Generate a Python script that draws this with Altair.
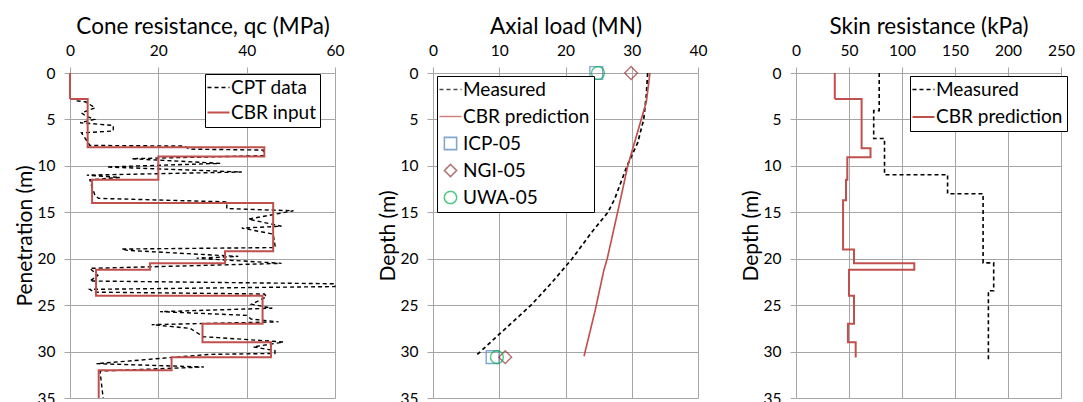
import altair as alt
import pandas as pd

FONT = "Lato"
RED = "#c0504d"
GRID = "#a6a6a6"
LINE_SYMBOL = "M-1.8,0H1.8"

# ---------- Panel 1: cone resistance ----------
cpt_qc = [1.5, 3.5, 5.7, 2.6, 3.5, 5.5, 2.3, 9.8, 9.8, 2.6, 3.8, 4.5, 26.0, 27.0, 43.8, 43.8,
          14.0, 34.0, 8.3, 38.9, 3.8, 11.3, 4.5, 4.9, 5.7, 6.5, 35.5, 35.5, 50.6, 40.4, 47.9,
          38.9, 46.0, 46.5, 11.7, 13.0, 38.1, 28.7, 47.9, 4.5, 6.3, 4.5, 60.0, 60.0, 4.5, 5.5,
          44.0, 44.5, 41.1, 45.8, 20.4, 40.0, 41.0, 47.2, 18.5, 27.2, 30.2, 33.6, 48.3, 41.5,
          46.4, 46.4, 31.7, 6.0, 30.3, 6.8, 7.5]
cpt_depth = [3.0, 3.1, 3.75, 4.3, 4.6, 5.0, 5.35, 5.65, 6.25, 6.45, 7.3, 7.8, 7.87, 8.2, 8.3, 8.9,
             9.23, 9.73, 10.12, 10.66, 11.0, 11.25, 11.5, 12.16, 13.23, 13.5, 13.88, 14.6, 14.84, 15.74, 16.5,
             16.7, 17.35, 18.8, 18.96, 19.1, 19.75, 19.95, 20.5, 21.04, 21.8, 22.4, 22.7, 23.0, 23.3, 23.6,
             23.8, 24.1, 24.9, 25.33, 25.7, 26.1, 26.5, 26.8, 27.1, 27.5, 28.4, 28.5, 28.97, 29.5,
             29.9, 30.2, 30.3, 31.3, 31.66, 32.1, 35.0]
cbr_qc = [0, 4.0, 44.0, 20.0, 5.0, 46.0, 35.1, 18.1, 5.9, 43.6, 30.0, 45.5, 23.0, 6.5]
cbr_qc_bounds = [0, 2.8, 8.0, 9.0, 11.5, 14.0, 19.2, 20.5, 21.2, 24.0, 27.0, 29.0, 30.6, 32.0, 35.0]

# ---------- Panel 2: axial load ----------
meas_load = [32.4, 32.2, 31.8, 30.9, 29.3, 27.4, 26.4, 23.9, 21.0, 17.9, 14.8, 10.2, 6.4]
meas_load_depth = [0, 2.4, 5, 7.5, 10, 13.6, 15, 17.2, 20, 22.6, 25, 28, 30.5]
cbr_load = [32.75, 32.2, 29.4, 28.3, 26.3, 25.8, 24.5, 22.8]
cbr_load_depth = [0, 3.1, 10, 13.6, 20, 21.2, 25.5, 30.5]
icp_load = [24.65, 9.0]
ngi_load = [29.9, 10.9]
uwa_load = [24.9, 9.65]
method_depth = [0, 30.6]

# ---------- Panel 3: skin resistance ----------
meas_skin = [78.5, 73.3, 83.5, 143.0, 176.5, 186.5, 181.5]
meas_skin_bounds = [0, 4.05, 7.05, 10.95, 13.0, 20.45, 23.45, 31.1]
cbr_skin = [36.6, 61.9, 70.3, 48.4, 47.2, 44.4, 54.7, 111.6, 50.0, 54.7, 49.0, 56.3]
cbr_skin_bounds = [0, 2.8, 8.1, 9.06, 11.5, 13.7, 19.0, 20.5, 21.2, 24.0, 27.0, 29.0, 30.65]

DEPTH_TICKS = [0, 5, 10, 15, 20, 25, 30, 35]


def step_rows(series, vals, bounds):
    rows = []
    for k, v in enumerate(vals):
        rows.append((series, v, bounds[k]))
        rows.append((series, v, bounds[k + 1]))
    return rows


def line_rows(series, vals, depths):
    return [(series, v, d) for v, d in zip(vals, depths)]


def frame(rows):
    df = pd.DataFrame(rows, columns=["series", "x", "depth"])
    df["i"] = range(len(df))
    return df


def xenc(ticks, title):
    return alt.X("x:Q", scale=alt.Scale(domain=[ticks[0], ticks[-1]], nice=False, zero=False),
                 axis=alt.Axis(orient="top", values=ticks, title=title, labelFlush=False))


def yenc(title):
    return alt.Y("depth:Q", scale=alt.Scale(domain=[0, 35], reverse=True, nice=False),
                 axis=alt.Axis(values=DEPTH_TICKS, title=title, labelFlush=False))


def legend(x, y, row_pad, pad):
    return alt.Legend(orient="none", legendX=x, legendY=y, title=None, strokeColor="black",
                      fillColor="white", padding=pad, symbolType=LINE_SYMBOL, symbolSize=150,
                      symbolStrokeWidth=1.6, labelFontSize=19, labelFont=FONT, labelColor="black",
                      rowPadding=row_pad, labelOffset=3)


W, H = 265, 325

# Panel 1
d1 = frame(line_rows("CPT data", cpt_qc, cpt_depth) + step_rows("CBR input", cbr_qc, cbr_qc_bounds))
dom1 = ["CPT data", "CBR input"]
leg1 = legend(135, 1, 5, 4)
p1 = alt.Chart(d1).mark_line().encode(
    x=xenc([0, 20, 40, 60], "Cone resistance, qc (MPa)"),
    y=yenc("Penetration (m)"),
    color=alt.Color("series:N", scale=alt.Scale(domain=dom1, range=["black", RED]), legend=leg1),
    strokeDash=alt.StrokeDash("series:N", scale=alt.Scale(domain=dom1, range=[[4, 3], [1, 0]]), legend=leg1),
    strokeWidth=alt.StrokeWidth("series:N", scale=alt.Scale(domain=dom1, range=[1.4, 2.0]), legend=None),
    order=alt.Order("i:Q"),
).properties(width=W, height=H)

# Panel 2
dom2 = ["Measured", "CBR prediction", "ICP-05", "NGI-05", "UWA-05"]
col2 = alt.Scale(domain=dom2, range=["black", RED, "#4f81bd", "#953735", "#00b050"])
d2l = frame(line_rows("Measured", meas_load, meas_load_depth) + line_rows("CBR prediction", cbr_load, cbr_load_depth))
d2p = frame(line_rows("ICP-05", icp_load, method_depth) + line_rows("NGI-05", ngi_load, method_depth)
            + line_rows("UWA-05", uwa_load, method_depth))
leg2 = legend(4, 3, 7, 4)
l2 = alt.Chart(d2l).mark_line().encode(
    x=xenc([0, 10, 20, 30, 40], "Axial load (MN)"),
    y=yenc("Depth (m)"),
    color=alt.Color("series:N", scale=col2, legend=leg2),
    strokeDash=alt.StrokeDash("series:N", scale=alt.Scale(domain=dom2, range=[[4, 3], [1, 0], [1, 0], [1, 0], [1, 0]]), legend=leg2),
    strokeWidth=alt.StrokeWidth("series:N", scale=alt.Scale(domain=dom2, range=[1.7, 1.5, 1.5, 1.5, 1.5]), legend=None),
    order=alt.Order("i:Q"),
)
pt2 = alt.Chart(d2p).mark_point(filled=False, size=165, strokeWidth=1.4).encode(
    x=xenc([0, 10, 20, 30, 40], "Axial load (MN)"),
    y=yenc("Depth (m)"),
    color=alt.Color("series:N", scale=col2, legend=leg2),
    shape=alt.Shape("series:N", scale=alt.Scale(domain=dom2, range=[LINE_SYMBOL, LINE_SYMBOL, "square", "diamond", "circle"]), legend=leg2),
)
p2 = alt.layer(l2, pt2).properties(width=W, height=H)

# Panel 3
dom3 = ["Measured", "CBR prediction"]
d3 = frame(step_rows("Measured", meas_skin, meas_skin_bounds) + step_rows("CBR prediction", cbr_skin, cbr_skin_bounds))
leg3 = legend(114, 3, 7.5, 4)
p3 = alt.Chart(d3).mark_line().encode(
    x=xenc([0, 50, 100, 150, 200, 250], "Skin resistance (kPa)"),
    y=yenc("Depth (m)"),
    color=alt.Color("series:N", scale=alt.Scale(domain=dom3, range=["black", RED]), legend=leg3),
    strokeDash=alt.StrokeDash("series:N", scale=alt.Scale(domain=dom3, range=[[4, 3], [1, 0]]), legend=leg3),
    strokeWidth=alt.StrokeWidth("series:N", scale=alt.Scale(domain=dom3, range=[1.6, 2.0]), legend=None),
    order=alt.Order("i:Q"),
).properties(width=W, height=H)

chart = alt.hconcat(p1, p2, p3, spacing=98, bounds="flush").resolve_scale(
    x="independent", y="independent", color="independent", strokeDash="independent",
    strokeWidth="independent", shape="independent"
).properties(padding={"left": 6, "top": 7, "right": 0, "bottom": 0}).configure_view(
    stroke=None
).configure_axis(
    labelFont=FONT, labelFontSize=15.5, labelColor="black", titleFont=FONT,
    titleFontWeight="normal", titleColor="black", gridColor=GRID, gridWidth=1, tickColor=GRID,
    tickSize=6, domain=False, labelPadding=8
).configure_axisX(titleFontSize=22.5, titlePadding=5, labelPadding=9).configure_axisY(
    titleFontSize=21, titlePadding=2, labelPadding=9)

chart.save("out.html", embed_options={"renderer": "svg", "actions": False})
